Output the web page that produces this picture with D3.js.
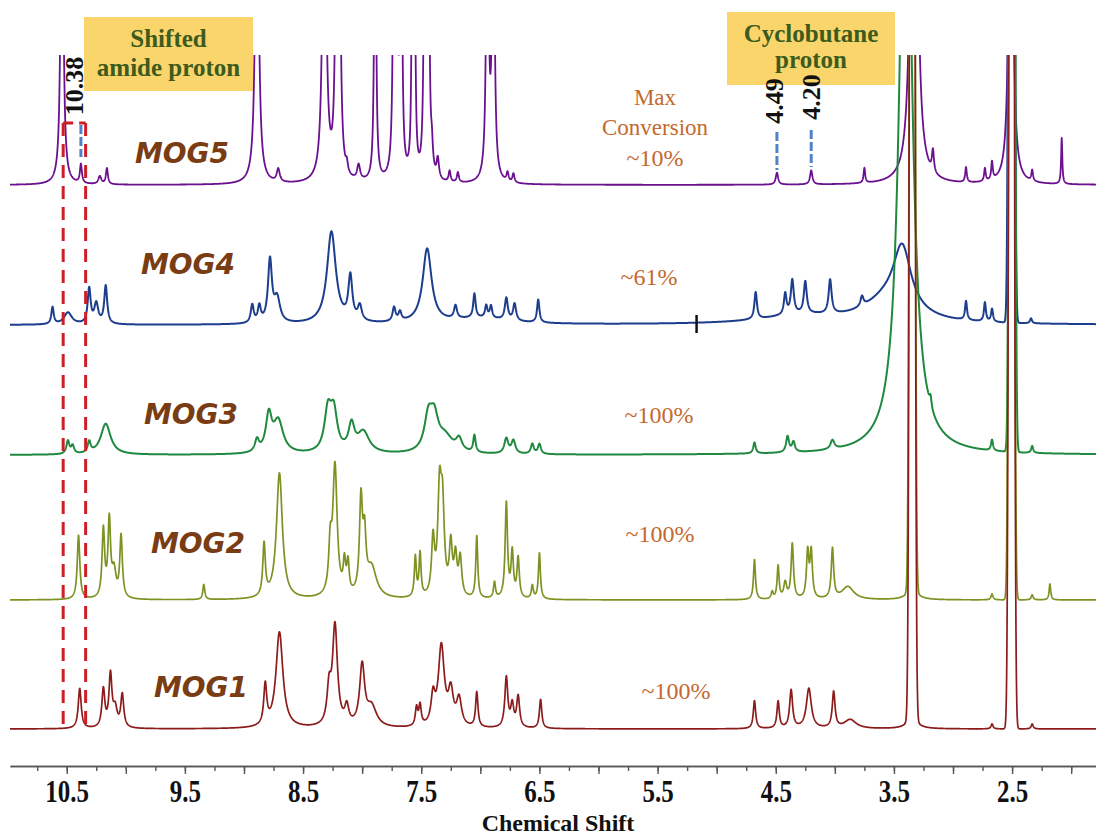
<!DOCTYPE html>
<html>
<head>
<meta charset="utf-8">
<script src="https://cdn.jsdelivr.net/npm/d3@7"></script>
<style>
  body { margin: 0; background: #fff; }
  svg { display: block; }
</style>
</head>
<body>
<svg id="chart" width="1096" height="836"></svg>
<script>
// ---------------------------------------------------------------
// 1H NMR stack: samples, conversions and peak tables
// Each peak: [chemical shift (ppm), intensity (a.u.), half-width (ppm), shape]
// shape "G" = Gaussian (width is sigma), otherwise Lorentzian (HWHM)
// ---------------------------------------------------------------
const samples = ["MOG5", "MOG4", "MOG3", "MOG2", "MOG1"];
const conversions = ["~10%", "~61%", "~100%", "~100%", "~100%"];
const conversionHeader = ["Max", "Conversion"];

const tickLabels = ["10.5", "9.5", "8.5", "7.5", "6.5", "5.5", "4.5", "3.5", "2.5"];
const axisTitle = "Chemical Shift";

const peaksMOG5 = [
  [10.54, 400, 0.012], [10.38, 19, 0.010], [10.22, 8, 0.015], [10.16, 16, 0.010],
  [8.89, 400, 0.015], [8.71, 13, 0.015],
  [8.32, 400, 0.016], [8.215, 400, 0.010], [8.195, 400, 0.010],
  [8.13, 9, 0.010], [8.03, 15, 0.015],
  [7.89, 400, 0.008], [7.73, 400, 0.008], [7.71, 400, 0.008], [7.67, 400, 0.008],
  [7.58, 95, 0.006], [7.565, 400, 0.008], [7.55, 55, 0.006],
  [7.47, 400, 0.008], [7.44, 400, 0.008], [7.41, 22, 0.010], [7.36, 20, 0.012],
  [7.26, 11, 0.010], [7.19, 10, 0.010],
  [6.94, 400, 0.010], [6.89, 400, 0.010],
  [6.77, 9, 0.010], [6.72, 9, 0.010],
  [4.49, 12, 0.012], [4.20, 14, 0.012], [3.75, 15, 0.008],
  [3.33, 940, 0.020], [3.17, 22, 0.010],
  [2.89, 15, 0.008], [2.73, 13, 0.008], [2.67, 18, 0.008],
  [2.51, 600, 0.015], [2.33, 11, 0.008], [2.08, 46, 0.006]
];

const peaksMOG4 = [
  [10.62, 17, 0.012], [10.49, 12, 0.040], [10.31, 35, 0.015], [10.25, 20, 0.020],
  [10.17, 38, 0.015],
  [8.93, 18, 0.015], [8.87, 16, 0.015], [8.78, 62, 0.020], [8.72, 24, 0.030],
  [8.26, 92, 0.045], [8.10, 44, 0.020], [8.02, 15, 0.020],
  [7.73, 14, 0.015], [7.68, 9, 0.015],
  [7.45, 74, 0.045], [7.21, 13, 0.015], [7.05, 24, 0.012],
  [6.95, 12, 0.012], [6.91, 12, 0.012], [6.78, 22, 0.015], [6.71, 17, 0.015],
  [6.51, 23, 0.012], [7.00, 6, 0.300],
  [4.67, 27, 0.013], [4.42, 21, 0.013], [4.36, 34, 0.015], [4.25, 32, 0.015],
  [4.04, 34, 0.015], [3.77, 10, 0.015], [4.30, 8, 0.400],
  [3.43, 62, 0.090], [3.55, 22, 0.250],
  [2.89, 19, 0.010], [2.73, 19, 0.010], [2.67, 13, 0.010],
  [2.505, 3000, 0.0145, "G"], [2.34, 5, 0.010]
];

const peaksMOG3 = [
  [10.49, 13, 0.015], [10.45, 8, 0.015], [10.31, 11, 0.015], [10.17, 31, 0.050],
  [8.89, 12, 0.020], [8.79, 36, 0.030], [8.71, 32, 0.050],
  [8.29, 40, 0.035], [8.24, 38, 0.035], [8.09, 26, 0.030], [7.99, 21, 0.060],
  [7.44, 33, 0.040], [7.39, 30, 0.040], [7.30, 16, 0.080],
  [7.18, 12, 0.030], [7.05, 17, 0.012],
  [6.78, 15, 0.020], [6.72, 13, 0.020], [6.56, 10, 0.015], [6.50, 10, 0.015],
  [4.68, 11, 0.012], [4.40, 16, 0.015], [4.35, 10, 0.015], [4.02, 9, 0.020],
  [3.40, 690, 0.059], [3.19, 10, 0.010],
  [2.67, 11, 0.010], [2.50, 3000, 0.0145, "G"], [2.33, 7, 0.010]
];

const peaksMOG2 = [
  [10.40, 64, 0.013], [10.19, 68, 0.013], [10.14, 76, 0.013], [10.10, 26, 0.020],
  [10.04, 62, 0.013], [9.34, 15, 0.010],
  [8.83, 52, 0.013], [8.70, 126, 0.030],
  [8.27, 44, 0.015], [8.23, 130, 0.022], [8.15, 30, 0.012], [8.12, 30, 0.012],
  [8.01, 92, 0.015], [7.98, 52, 0.015], [7.92, 30, 0.050],
  [7.55, 40, 0.010], [7.51, 43, 0.010],
  [7.40, 55, 0.015], [7.345, 98, 0.018], [7.32, 82, 0.018],
  [7.25, 50, 0.015], [7.21, 38, 0.015], [7.17, 38, 0.015],
  [7.03, 62, 0.010], [6.88, 16, 0.010],
  [6.78, 95, 0.012], [6.73, 45, 0.012], [6.68, 40, 0.012],
  [6.56, 13, 0.010], [6.50, 46, 0.010],
  [4.68, 40, 0.010], [4.53, 7, 0.010], [4.48, 33, 0.010], [4.42, 16, 0.015],
  [4.36, 55, 0.012], [4.23, 46, 0.012], [4.20, 46, 0.012], [4.02, 50, 0.012],
  [3.89, 13, 0.060],
  [3.345, 3000, 0.0145, "G"], [3.345, 12, 0.050],
  [2.67, 6, 0.010], [2.505, 3000, 0.0145, "G"], [2.33, 5, 0.010], [2.18, 16, 0.008]
];

const peaksMOG1 = [
  [10.39, 40, 0.015], [10.19, 38, 0.015], [10.13, 52, 0.015], [10.09, 18, 0.020],
  [10.03, 33, 0.015],
  [8.82, 40, 0.015], [8.70, 96, 0.035],
  [8.28, 34, 0.020], [8.23, 100, 0.025], [8.13, 18, 0.020],
  [8.00, 60, 0.025], [7.92, 20, 0.050],
  [7.54, 18, 0.012], [7.51, 20, 0.012],
  [7.40, 28, 0.020], [7.33, 80, 0.030], [7.25, 33, 0.025], [7.18, 27, 0.025],
  [7.03, 35, 0.012],
  [6.78, 50, 0.015], [6.73, 22, 0.015], [6.68, 31, 0.015], [6.49, 29, 0.012],
  [4.68, 28, 0.012], [4.48, 27, 0.012], [4.37, 38, 0.015], [4.22, 40, 0.025],
  [4.01, 36, 0.014], [3.87, 9, 0.060],
  [3.345, 3000, 0.0145, "G"], [3.345, 12, 0.050],
  [2.67, 5, 0.010], [2.505, 3000, 0.0145, "G"], [2.33, 5, 0.010]
];

// Marked signals and the amide window
const markedShifts = [10.38, 4.49, 4.20];
const amideWindow = [10.53, 10.34];
const cursorShift = [5.17];
const boxTexts = [["Shifted", "amide proton"], ["Cyclobutane", "proton"]];

// ---------------------------------------------------------------
// Layout and styles
// ---------------------------------------------------------------
const W = 1096, H = 836;
const traceColors = ["#6b1190", "#1d3d8d", "#20893f", "#7b9322", "#8c1b1b"];
const traceWidths = [1.8, 2.0, 2.0, 1.7, 1.7];
const traceBase = [185, 325, 455, 600, 729];
const sampleLabelPos = [[182, 163], [188, 274], [191, 424], [198, 553], [201, 697]];
const convLabelPos = [[655, 166], [649, 285], [659, 423], [660, 542], [676, 699]];
const clipTop = 55, clipBottom = 760;
const axisY = 766;

const svg = d3.select("#chart");

const x = d3.scaleLinear().domain([10.98, 1.79]).range([10, W]);
const yInt = d3.scaleLinear().domain([0, 100]).range([0, -100]);

// ---------------------------------------------------------------
// Highlight boxes (behind everything)
// ---------------------------------------------------------------
const boxes = [
  { x0: 84, y0: 17, x1: 253, y1: 91, lines: boxTexts[0], base: [47, 76] },
  { x0: 727, y0: 12, x1: 895, y1: 85, lines: boxTexts[1], base: [42, 68] }
];
const boxG = svg.append("g");
boxes.forEach(b => {
  boxG.append("rect")
    .attr("x", b.x0).attr("y", b.y0)
    .attr("width", b.x1 - b.x0).attr("height", b.y1 - b.y0)
    .attr("fill", "#f9d56c");
  b.lines.forEach((t, i) => {
    boxG.append("text")
      .attr("x", (b.x0 + b.x1) / 2).attr("y", b.base[i])
      .attr("text-anchor", "middle")
      .attr("font-family", "'Liberation Serif', 'Times New Roman', serif")
      .attr("font-weight", "bold").attr("font-size", 25)
      .attr("fill", "#3d5b1d")
      .text(t);
  });
});

// ---------------------------------------------------------------
// Spectra
// ---------------------------------------------------------------
svg.append("defs").append("clipPath").attr("id", "plotClip")
  .append("rect").attr("x", 0).attr("y", clipTop).attr("width", W).attr("height", clipBottom - clipTop);

function shape(ppm, p) {
  const d = ppm - p[0];
  if (p[3] === "G") return p[1] * Math.exp(-d * d / (2 * p[2] * p[2]));
  return p[1] * p[2] * p[2] / (d * d + p[2] * p[2]);
}

const peakTables = [peaksMOG5, peaksMOG4, peaksMOG3, peaksMOG2, peaksMOG1];

const grid = d3.range(x.range()[0], x.range()[1] + 0.01, 0.2).map(px => x.invert(px));

const spectraG = svg.append("g").attr("clip-path", "url(#plotClip)");

peakTables.forEach((peaks, i) => {
  const pts = grid.concat(peaks.map(p => p[0])).sort((a, b) => b - a);
  const data = pts.map(ppm => ({ ppm, v: d3.sum(peaks, p => shape(ppm, p)) }));
  const line = d3.line()
    .x(d => x(d.ppm))
    .y(d => traceBase[i] + yInt(d.v));
  spectraG.append("path")
    .datum(data)
    .attr("d", line)
    .attr("fill", "none")
    .attr("stroke", traceColors[i])
    .attr("stroke-width", traceWidths[i])
    .attr("stroke-linejoin", "round");
});

// cursor mark on the MOG4 trace
svg.append("g").selectAll("line").data(cursorShift).join("line")
  .attr("x1", d => x(d)).attr("x2", d => x(d))
  .attr("y1", traceBase[1] - 10).attr("y2", traceBase[1] + 8)
  .attr("stroke", "#111").attr("stroke-width", 2.5);

// ---------------------------------------------------------------
// Amide window (red dashed) and marked signals (blue dashed)
// ---------------------------------------------------------------
const winG = svg.append("g")
  .attr("stroke", "#cc1f27").attr("stroke-width", 3).attr("fill", "none");
amideWindow.forEach(v => {
  winG.append("line")
    .attr("x1", x(v)).attr("x2", x(v)).attr("y1", 123).attr("y2", 724)
    .attr("stroke-dasharray", "13,8");
});
winG.append("line")
  .attr("x1", x(amideWindow[0])).attr("x2", x(amideWindow[1]))
  .attr("y1", 123).attr("y2", 123)
  .attr("stroke-dasharray", "10,6");

const markLayout = [
  { y1: 125, y2: 157, ly: 86, dx: 2 },
  { y1: 132, y2: 170, ly: 101, dx: 6 },
  { y1: 130, y2: 167, ly: 97, dx: 9 }
];
markedShifts.forEach((v, i) => {
  const m = markLayout[i];
  svg.append("line")
    .attr("x1", x(v)).attr("x2", x(v)).attr("y1", m.y1).attr("y2", m.y2)
    .attr("stroke", "#4f82c9").attr("stroke-width", 3)
    .attr("stroke-dasharray", "9,3");
  svg.append("text")
    .attr("transform", `translate(${x(v) + m.dx},${m.ly}) rotate(-90)`)
    .attr("text-anchor", "middle")
    .attr("font-family", "'Liberation Serif', 'Times New Roman', serif")
    .attr("font-weight", "bold").attr("font-size", 26)
    .attr("fill", "#111")
    .text(v.toFixed(2));
});

// ---------------------------------------------------------------
// Sample names and conversions
// ---------------------------------------------------------------
samples.forEach((s, i) => {
  svg.append("text")
    .attr("x", sampleLabelPos[i][0]).attr("y", sampleLabelPos[i][1])
    .attr("text-anchor", "middle")
    .attr("font-family", "'DejaVu Sans', sans-serif")
    .attr("font-weight", "bold").attr("font-style", "italic")
    .attr("font-size", 28)
    .attr("fill", "#7a3c12")
    .text(s);
  svg.append("text")
    .attr("x", convLabelPos[i][0]).attr("y", convLabelPos[i][1])
    .attr("text-anchor", "middle")
    .attr("font-family", "'Liberation Serif', 'Times New Roman', serif")
    .attr("font-size", 24)
    .attr("fill", "#c4692f")
    .text(conversions[i]);
});
conversionHeader.forEach((t, i) => {
  svg.append("text")
    .attr("x", 655).attr("y", 105 + i * 30)
    .attr("text-anchor", "middle")
    .attr("font-family", "'Liberation Serif', 'Times New Roman', serif")
    .attr("font-size", 23)
    .attr("fill", "#c4692f")
    .text(t);
});

// ---------------------------------------------------------------
// Chemical shift axis
// ---------------------------------------------------------------
const minorTicks = d3.range(0, 36).map(i => 10.75 - i * 0.25);
const majorTicks = d3.range(0, 18).map(i => 10.5 - i * 0.5);
const labelValues = tickLabels.map(Number);

const axisG = svg.append("g").attr("transform", `translate(0,${axisY})`);
axisG.call(d3.axisBottom(x).tickValues(minorTicks).tickSize(5).tickSizeOuter(0).tickFormat(""));
const majorG = svg.append("g").attr("transform", `translate(0,${axisY})`);
majorG.call(d3.axisBottom(x).tickValues(majorTicks).tickSize(8).tickSizeOuter(0)
  .tickFormat(d => {
    const k = labelValues.findIndex(v => Math.abs(v - d) < 1e-6);
    return k >= 0 ? tickLabels[k] : "";
  }));
[axisG, majorG].forEach(g => {
  g.select(".domain").attr("stroke", "#555").attr("stroke-width", 1.6);
  g.selectAll(".tick line").attr("stroke", "#555").attr("stroke-width", 1.4);
});
majorG.selectAll(".tick text")
  .attr("y", 0).attr("dy", 0)
  .attr("transform", "translate(0,36) scale(1,1.25)")
  .attr("font-family", "'Liberation Serif', 'Times New Roman', serif")
  .attr("font-weight", "bold").attr("font-size", 25)
  .attr("fill", "#111");

svg.append("text")
  .attr("x", 558).attr("y", 830.5)
  .attr("text-anchor", "middle")
  .attr("font-family", "'Liberation Serif', 'Times New Roman', serif")
  .attr("font-weight", "bold").attr("font-size", 24)
  .attr("fill", "#111")
  .text(axisTitle);
</script>
</body>
</html>
